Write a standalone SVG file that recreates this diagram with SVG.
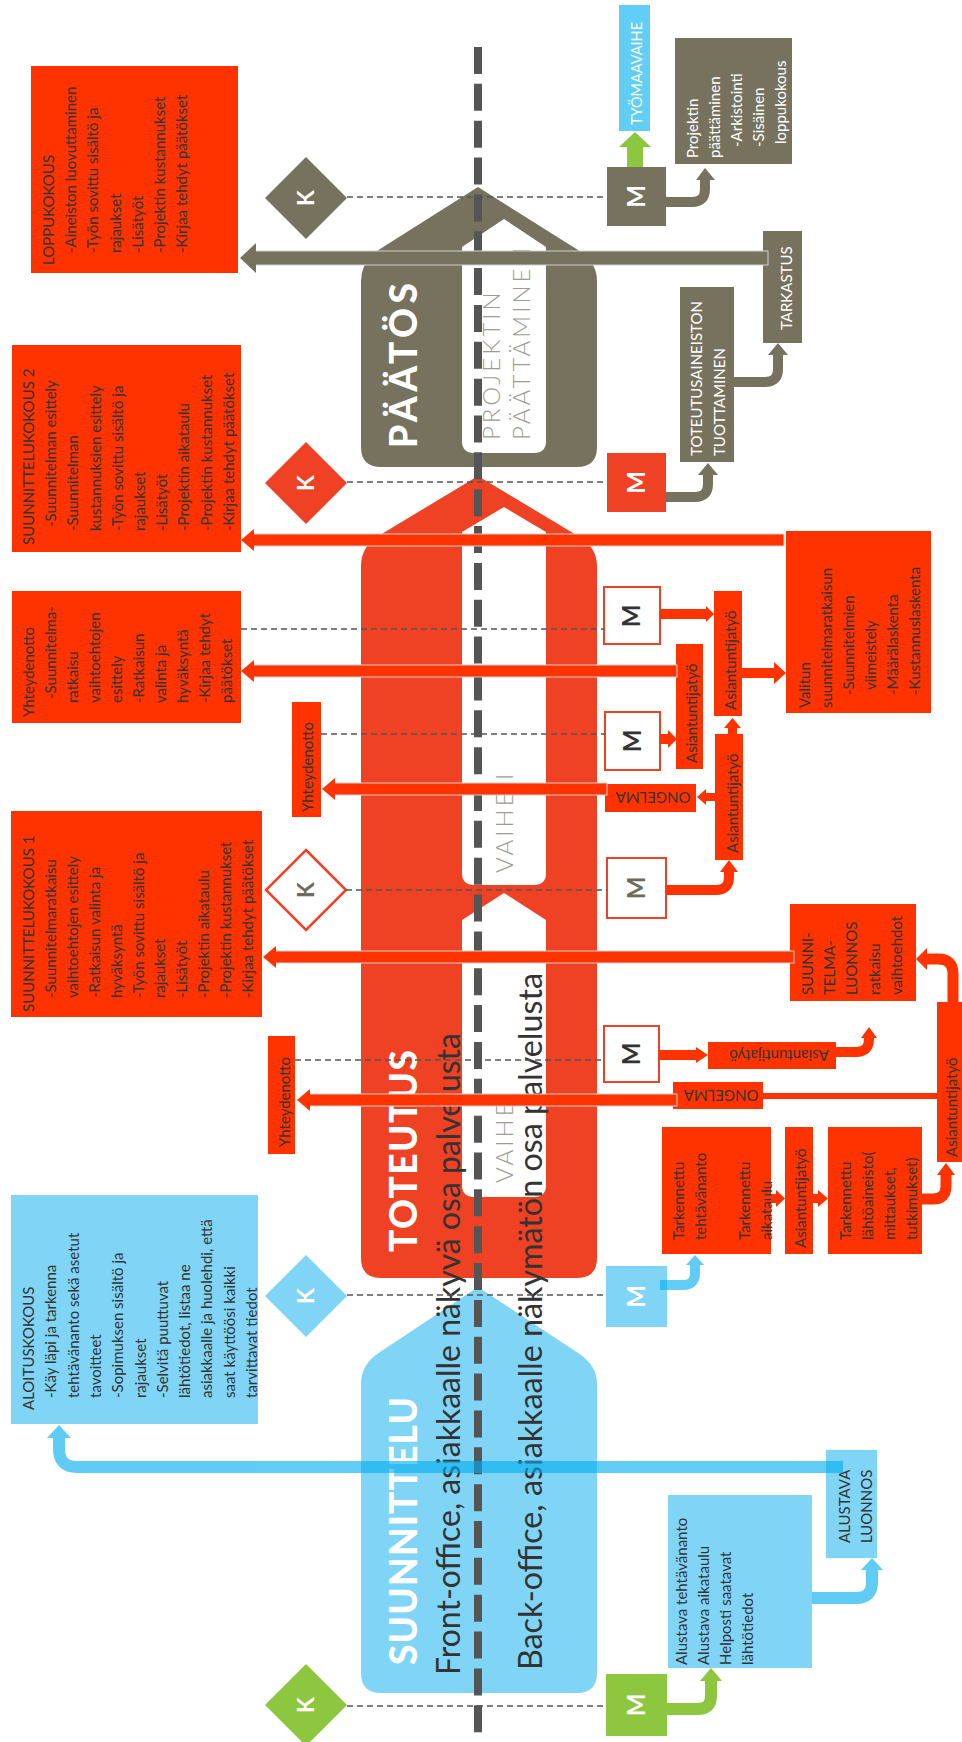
<svg xmlns="http://www.w3.org/2000/svg" width="962" height="1742" viewBox="0 0 962 1742">
<style>
  .txt{font-family:Lato,"Noto Sans",sans-serif;font-size:15px;fill:#333}
  .wt{fill:#fff}
  .red{fill:#ff3300}
  .org{fill:#ef4123}
  .gry{fill:#76725e}
  .blu{fill:#80d5f6}
  .grn{fill:#8dc63f}
  .sym{font-family:Lato,"Noto Sans",sans-serif;font-weight:700;font-size:23px;fill:#fff;text-anchor:middle}
  .msym{font-size:24px}
  .phase{font-family:Lato,"Noto Sans",sans-serif;font-weight:900;font-size:37px;fill:#fff}
  .sub{font-family:Lato,"Noto Sans",sans-serif;font-weight:300;font-size:24px;fill:#9c9c94;letter-spacing:3px}
  .office{font-family:Lato,"Noto Sans",sans-serif;font-size:32px;fill:#333}
  .dash{stroke:#555;stroke-width:1.3;stroke-dasharray:6 4;fill:none}
  .bar{stroke:#d0d0d0;stroke-width:1}
  .wbox{fill:#fff;stroke:#ef4123;stroke-width:2}
  .sr{fill:none;stroke:#ff3300}
  .sg{fill:none;stroke:#76725e}
  .sgr{fill:none;stroke:#8dc63f}
  .sb{fill:none;stroke:#00aeef}
  .mid{text-anchor:middle}
</style>

<!-- phase shapes -->
<g id="phase-paatos">
  <path class="gry" d="M478 187 L380 249 Q361 261 361 281 L361 447 Q361 467 381 467 L577 467 Q597 467 597 447 L597 281 Q597 262 578 250 Z"/>
  <path fill="#fff" d="M504 219 L546 247 L546 441 Q546 453 534 453 L474 453 Q462 453 462 441 L462 247 Z"/>
  <text class="phase" transform="translate(417 448) rotate(-90)" textLength="165" lengthAdjust="spacing">PÄÄTÖS</text>
  <text class="sub" transform="translate(500 440) rotate(-90)">PROJEKTIN</text>
  <text class="sub" transform="translate(530 440) rotate(-90)">PÄÄTTÄMINEN</text>
</g>
<g id="phase-toteutus">
  <path class="org" d="M478 476 L380 535 Q361 546 361 566 L361 1258 Q361 1278 381 1278 L577 1278 Q597 1278 597 1258 L597 566 Q597 547 578 536 Z"/>
  <path fill="#fff" d="M504 507 L546 532 L546 873 Q546 885 534 885 L474 885 Q462 885 462 873 L462 532 Z"/>
  <path fill="#fff" d="M504 893 L546 920 L546 1185 Q546 1197 534 1197 L474 1197 Q462 1197 462 1185 L462 920 Z"/>
  <text class="phase" transform="translate(417 1252) rotate(-90)" textLength="202" lengthAdjust="spacing">TOTEUTUS</text>
  <text class="sub" transform="translate(513 873) rotate(-90)">VAIHE I</text>
  <text class="sub" transform="translate(513 1183) rotate(-90)">VAIHE</text>
</g>
<g id="phase-suunnittelu">
  <path class="blu" d="M478 1287 L380 1352 Q361 1364 361 1384 L361 1673 Q361 1693 381 1693 L577 1693 Q597 1693 597 1673 L597 1384 Q597 1365 578 1353 Z"/>
  <text class="phase" transform="translate(417 1665) rotate(-90)" textLength="268" lengthAdjust="spacing">SUUNNITTELU</text>
</g>
<g id="office-labels">
  <text class="office" transform="translate(460 1675) rotate(-90)" textLength="642" lengthAdjust="spacingAndGlyphs">Front-office, asiakkaalle näkyvä osa palvelusta</text>
  <text class="office" transform="translate(542 1670) rotate(-90)" textLength="697" lengthAdjust="spacingAndGlyphs">Back-office, asiakkaalle näkymätön osa palvelusta</text>
</g>

<!-- front/back office boundary -->
<line id="boundary" x1="478" y1="47" x2="478" y2="1733" stroke="#555" stroke-width="8" stroke-dasharray="27 9.85"/>

<!-- meeting diamonds -->
<g id="k-loppukokous"><polygon class="gry" points="306,157 347,198 306,239 265,198"/><text class="sym" transform="translate(314 198) rotate(-90)">K</text></g>
<g id="k-suunnittelukokous2"><polygon class="org" points="306,442 347,483 306,524 265,483"/><text class="sym" transform="translate(314 483) rotate(-90)">K</text></g>
<g id="k-suunnittelukokous1"><polygon fill="#fff" stroke="#ef4123" stroke-width="2.5" points="306,850 346,890 306,930 266,890"/><text class="sym" style="fill:#6d6b5a" transform="translate(314 890) rotate(-90)">K</text></g>
<g id="k-aloituskokous"><polygon class="blu" points="306,1255 347,1296 306,1337 265,1296"/><text class="sym" transform="translate(314 1296) rotate(-90)">K</text></g>
<g id="k-alku"><polygon class="grn" points="306,1664 347,1705 306,1746 265,1705"/><text class="sym" transform="translate(314 1705) rotate(-90)">K</text></g>

<!-- milestone squares -->
<g id="m-paatos"><rect class="gry" x="607" y="167" width="59" height="59"/><text class="sym msym" transform="translate(645 196.5) rotate(-90)">M</text></g>
<g id="m-toteutus-loppu"><rect class="org" x="607" y="453" width="59" height="59"/><text class="sym msym" transform="translate(645 482.5) rotate(-90)">M</text></g>
<g id="m-1"><rect class="wbox" x="604" y="587" width="56" height="57"/><text class="sym msym" style="fill:#333" transform="translate(640 616) rotate(-90)">M</text></g>
<g id="m-2"><rect class="wbox" x="605" y="712" width="55" height="58"/><text class="sym msym" style="fill:#333" transform="translate(641 741) rotate(-90)">M</text></g>
<g id="m-3"><rect class="wbox" x="607" y="858" width="59" height="60"/><text class="sym msym" style="fill:#6d6b5a" transform="translate(645 888) rotate(-90)">M</text></g>
<g id="m-4"><rect class="wbox" x="604" y="1026" width="55" height="56"/><text class="sym msym" style="fill:#333" transform="translate(640 1054) rotate(-90)">M</text></g>
<g id="m-aloitus"><rect class="blu" x="606" y="1266" width="61" height="61"/><text class="sym msym" transform="translate(645 1296.5) rotate(-90)">M</text></g>
<g id="m-alku"><rect class="grn" x="606" y="1674" width="61" height="62"/><text class="sym msym" transform="translate(645 1705) rotate(-90)">M</text></g>

<!-- customer side boxes -->
<g id="loppukokous">
  <rect class="red" x="31" y="66" width="207" height="207"/>
  <text class="txt" transform="translate(54 253) rotate(-90)"><tspan x="-12" y="0">LOPPUKOKOUS</tspan><tspan x="0" dy="22.2">-Aineiston luovuttaminen</tspan><tspan x="0" dy="22.2">-Työn sovittu sisältö ja</tspan><tspan x="0" dy="22.2">rajaukset</tspan><tspan x="0" dy="22.2">-Lisätyöt</tspan><tspan x="0" dy="22.2">-Projektin kustannukset</tspan><tspan x="0" dy="22.2">-Kirjaa tehdyt päätökset</tspan></text>
</g>
<g id="suunnittelukokous2">
  <rect class="red" x="12" y="345" width="229" height="207"/>
  <text class="txt" transform="translate(34 531) rotate(-90)"><tspan x="-14" y="0">SUUNNITTELUKOKOUS 2</tspan><tspan x="4" dy="22.2">-Suunnitelman esittely</tspan><tspan x="0" dy="22.2">-Suunnitelman</tspan><tspan x="0" dy="22.2">kustannuksien esittely</tspan><tspan x="0" dy="22.2">-Työn sovittu sisältö ja</tspan><tspan x="0" dy="22.2">rajaukset</tspan><tspan x="0" dy="22.2">-Lisätyöt</tspan><tspan x="0" dy="22.2">-Projektin aikataulu</tspan><tspan x="0" dy="22.2">-Projektin kustannukset</tspan><tspan x="0" dy="22.2">-Kirjaa tehdyt päätökset</tspan></text>
</g>
<g id="yhteydenotto-ratkaisu">
  <rect class="red" x="12" y="591" width="229" height="132"/>
  <text class="txt" transform="translate(34 703) rotate(-90)"><tspan x="-14" y="0">Yhteydenotto</tspan><tspan x="4" dy="22">-Suunnitelma-</tspan><tspan x="0" dy="22">ratkaisu</tspan><tspan x="0" dy="22">vaihtoehtojen</tspan><tspan x="0" dy="22">esittely</tspan><tspan x="0" dy="22">-Ratkaisun</tspan><tspan x="0" dy="22">valinta ja</tspan><tspan x="0" dy="22">hyväksyntä</tspan><tspan x="0" dy="22">-Kirjaa tehdyt</tspan><tspan x="0" dy="22">päätökset</tspan></text>
</g>
<g id="yhteydenotto-1">
  <rect class="red" x="292" y="702" width="29" height="115"/>
  <text class="txt" transform="translate(313 812) rotate(-90)">Yhteydenotto</text>
</g>
<g id="suunnittelukokous1">
  <rect class="red" x="11" y="811" width="251" height="206"/>
  <text class="txt" transform="translate(34 998) rotate(-90)"><tspan x="-14" y="0">SUUNNITTELUKOKOUS 1</tspan><tspan x="0" dy="21.9">-Suunnitelmaratkaisu</tspan><tspan x="0" dy="21.9">vaihtoehtojen  esittely</tspan><tspan x="0" dy="21.9">-Ratkaisun valinta ja</tspan><tspan x="0" dy="21.9">hyväksyntä</tspan><tspan x="0" dy="21.9">-Työn sovittu sisältö ja</tspan><tspan x="0" dy="21.9">rajaukset</tspan><tspan x="0" dy="21.9">-Lisätyöt</tspan><tspan x="0" dy="21.9">-Projektin aikataulu</tspan><tspan x="0" dy="21.9">-Projektin kustannukset</tspan><tspan x="0" dy="21.9">-Kirjaa tehdyt päätökset</tspan></text>
</g>
<g id="yhteydenotto-2">
  <rect class="red" x="268" y="1036" width="27" height="118"/>
  <text class="txt" transform="translate(290 1147) rotate(-90)">Yhteydenotto</text>
</g>
<g id="aloituskokous">
  <rect class="blu" x="11" y="1195" width="247" height="229"/>
  <text class="txt" transform="translate(34 1398) rotate(-90)"><tspan x="-12" y="0">ALOITUSKOKOUS</tspan><tspan x="0" dy="22.3">-Käy läpi ja tarkenna</tspan><tspan x="0" dy="22.3">tehtävänanto sekä asetut</tspan><tspan x="0" dy="22.3">tavoitteet</tspan><tspan x="0" dy="22.3">-Sopimuksen sisältö ja</tspan><tspan x="0" dy="22.3">rajaukset</tspan><tspan x="0" dy="22.3">-Selvitä puuttuvat</tspan><tspan x="0" dy="22.3">lähtötiedot, listaa ne</tspan><tspan x="0" dy="22.3">asiakkaalle ja huolehdi, että</tspan><tspan x="0" dy="22.3">saat käyttöösi kaikki</tspan><tspan x="0" dy="22.3">tarvittavat tiedot</tspan></text>
</g>

<!-- internal work boxes -->
<g id="tyomaavaihe">
  <rect x="619" y="5" width="31" height="126" fill="#62cdf5"/>
  <text class="txt wt" transform="translate(642 125) rotate(-90)" textLength="103" lengthAdjust="spacingAndGlyphs">TYÖMAAVAIHE</text>
</g>
<g id="projektin-paattaminen">
  <rect class="gry" x="675" y="38" width="117" height="126"/>
  <text class="txt wt" transform="translate(698 158) rotate(-90)"><tspan x="0" y="0">Projektin</tspan><tspan x="0" dy="22">päättäminen</tspan><tspan x="11" dy="22">-Arkistointi</tspan><tspan x="11" dy="22">-Sisäinen</tspan><tspan x="14" dy="22">loppukokous</tspan></text>
</g>
<g id="tarkastus">
  <rect class="gry" x="763" y="231" width="39" height="112"/>
  <text class="txt wt" transform="translate(792 330) rotate(-90)">TARKASTUS</text>
</g>
<g id="toteutusaineisto">
  <rect class="gry" x="680" y="287" width="54" height="175"/>
  <text class="txt wt" transform="translate(702 456) rotate(-90)"><tspan x="0" y="0">TOTEUTUSAINEISTON</tspan><tspan x="0" dy="23">TUOTTAMINEN</tspan></text>
</g>
<g id="valitun-ratkaisu">
  <rect class="red" x="786" y="531" width="145" height="182"/>
  <text class="txt" transform="translate(810 708) rotate(-90)"><tspan x="0" y="0">Valitun</tspan><tspan x="0" dy="22">suunnitelmaratkaisun</tspan><tspan x="13" dy="22">-Suunnitelmien</tspan><tspan x="18" dy="22">viimeistely</tspan><tspan x="13" dy="22">-Määrälaskenta</tspan><tspan x="13" dy="22">-Kustannuslaskenta</tspan></text>
</g>
<g id="asiantuntijatyo-1">
  <rect class="red" x="714" y="591" width="28" height="125"/>
  <text class="txt" transform="translate(736 710) rotate(-90)">Asiantuntijatyö</text>
</g>
<g id="asiantuntijatyo-2">
  <rect class="red" x="676" y="644" width="27" height="125"/>
  <text class="txt" transform="translate(697 763) rotate(-90)">Asiantuntijatyö</text>
</g>
<g id="asiantuntijatyo-3">
  <rect class="red" x="715" y="734" width="28" height="126"/>
  <text class="txt" transform="translate(737.5 853) rotate(-90)">Asiantuntijatyö</text>
</g>
<g id="ongelma-1">
  <rect class="red" x="605" y="784" width="91" height="28"/>
  <text class="txt mid" transform="translate(653 797) rotate(180)" dy="0.36em">ONGELMA</text>
</g>
<g id="suunnitelmaluonnos">
  <rect class="red" x="790" y="904" width="126" height="97"/>
  <text class="txt" transform="translate(813 995) rotate(-90)"><tspan x="0" y="0">SUUNNI-</tspan><tspan x="0" dy="22.2">TELMA-</tspan><tspan x="0" dy="22.2">LUONNOS</tspan><tspan x="0" dy="22.2">ratkaisu</tspan><tspan x="0" dy="22.2">vaihtoehdot</tspan></text>
</g>
<g id="asiantuntijatyo-4">
  <rect class="red" x="708" y="1042" width="128" height="27"/>
  <text class="txt mid" transform="translate(779 1055) rotate(180)" dy="0.36em">Asiantuntijatyö</text>
</g>
<g id="ongelma-2">
  <rect class="red" x="673" y="1082" width="90" height="27"/>
  <text class="txt mid" transform="translate(721 1095) rotate(180)" dy="0.36em">ONGELMA</text>
</g>
<g id="asiantuntijatyo-5">
  <rect class="red" x="937" y="1002" width="25" height="160"/>
  <text class="txt" transform="translate(957 1157) rotate(-90)">Asiantuntijatyö</text>
</g>
<g id="tarkennettu-tehtavananto">
  <rect class="red" x="662" y="1127" width="109" height="127"/>
  <text class="txt" transform="translate(684 1240) rotate(-90)"><tspan x="0" y="0">Tarkennettu</tspan><tspan x="0" dy="22">tehtävänanto</tspan><tspan x="0" dy="44">Tarkennettu</tspan><tspan x="0" dy="22">aikataulu</tspan></text>
</g>
<g id="asiantuntijatyo-6">
  <rect class="red" x="785" y="1127" width="28" height="127"/>
  <text class="txt" transform="translate(806 1248) rotate(-90)">Asiantuntijatyö</text>
</g>
<g id="tarkennettu-lahtoaineisto">
  <rect class="red" x="828" y="1127" width="94" height="127"/>
  <text class="txt" transform="translate(851 1240) rotate(-90)"><tspan x="0" y="0">Tarkennettu</tspan><tspan x="0" dy="22">lähtöaineisto(</tspan><tspan x="0" dy="22">mittaukset,</tspan><tspan x="0" dy="22">tutkimukset)</tspan></text>
</g>
<g id="alustava-luonnos">
  <rect class="blu" x="826" y="1450" width="51" height="108"/>
  <text class="txt" transform="translate(850 1543) rotate(-90)"><tspan x="0" y="0">ALUSTAVA</tspan><tspan x="0" dy="22">LUONNOS</tspan></text>
</g>
<g id="alustava-tehtavananto">
  <rect class="blu" x="668" y="1495" width="144" height="173"/>
  <text class="txt" transform="translate(687 1665) rotate(-90)"><tspan x="0" y="0">Alustava tehtävänanto</tspan><tspan x="0" dy="22">Alustava aikataulu</tspan><tspan x="0" dy="22">Helposti saatavat</tspan><tspan x="0" dy="22">lähtötiedot</tspan></text>
</g>

<!-- connectors -->
<g id="connectors">
  <!-- meeting to milestone links -->
  <line class="dash" x1="347" y1="197" x2="607" y2="197"/>
  <line class="dash" x1="347" y1="482" x2="607" y2="482"/>
  <line class="dash" x1="241" y1="629" x2="604" y2="629"/>
  <line class="dash" x1="321" y1="734" x2="605" y2="734"/>
  <line class="dash" x1="346" y1="890" x2="607" y2="890"/>
  <line class="dash" x1="295" y1="1060" x2="604" y2="1060"/>
  <line class="dash" x1="347" y1="1295" x2="606" y2="1295"/>
  <line class="dash" x1="347" y1="1706" x2="606" y2="1706"/>

  <!-- report bars towards the customer side -->
  <rect class="gry bar" x="255" y="251" width="513" height="14"/>
  <polygon class="gry" points="240,258 256,243 256,273"/>
  <rect class="red bar" x="253" y="534" width="531" height="12"/>
  <polygon class="red" points="241,540 254,529 254,551"/>
  <rect class="red bar" x="253" y="665" width="424" height="12"/>
  <polygon class="red" points="241,671 254,660 254,682"/>
  <rect class="red bar" x="334" y="783" width="273" height="12"/>
  <polygon class="red" points="322,789 335,778 335,800"/>
  <rect class="red bar" x="275" y="951" width="519" height="12"/>
  <polygon class="red" points="263,957 276,946 276,968"/>
  <rect class="red bar" x="309" y="1094" width="368" height="12"/>
  <polygon class="red" points="297,1100 310,1089 310,1111"/>
  <rect class="red" x="763" y="1093" width="174" height="6"/>

  <!-- internal flow arrows -->
  <path class="sg" stroke-width="10" d="M666 202 H692 Q705 202 705 189 V179"/>
  <polygon class="gry" points="696,180 715,180 705,168"/>
  <path class="sg" stroke-width="10" d="M666 497 H695 Q708 497 708 484 V474"/>
  <polygon class="gry" points="698,475 718,475 708,463"/>
  <path class="sg" stroke-width="10" d="M734 382 H765 Q778 382 778 369 V354"/>
  <polygon class="gry" points="768,355 788,355 778,343"/>

  <rect class="grn" x="627" y="146" width="16" height="21"/>
  <polygon class="grn" points="619,147 651,147 635,132"/>
  <path class="sgr" stroke-width="12" d="M667 1709 H698 Q711 1709 711 1696 V1680"/>
  <polygon class="grn" points="700,1681 722,1681 711,1668"/>

  <rect class="red" x="660" y="609" width="47" height="10"/>
  <polygon class="red" points="706,606 714,614 706,622"/>
  <rect class="red" x="660" y="734" width="9" height="10"/>
  <polygon class="red" points="668,730 677,739 668,748"/>
  <rect class="red" x="742" y="668" width="33" height="10"/>
  <polygon class="red" points="774,662 786,673 774,684"/>
  <path class="sr" stroke-width="10" d="M666 890 H716 Q729 890 729 877 V871"/>
  <polygon class="red" points="720,872 738,872 729,860"/>
  <rect class="red" x="728" y="727" width="9" height="8"/>
  <polygon class="red" points="724,728 741,728 732.5,718"/>
  <rect class="red" x="705" y="793" width="11" height="8"/>
  <polygon class="red" points="697,797 706,789 706,805"/>
  <rect class="red" x="659" y="1050" width="38" height="10"/>
  <polygon class="red" points="696,1047 708,1055 696,1063"/>
  <path class="sr" stroke-width="10" d="M836 1052 H856 Q869 1052 869 1039 V1037"/>
  <polygon class="red" points="861,1038 877,1038 869,1027"/>
  <rect class="red" x="771" y="1194" width="6" height="9"/>
  <polygon class="red" points="776,1190 785,1198.5 776,1207"/>
  <rect class="red" x="813" y="1194" width="6" height="9"/>
  <polygon class="red" points="818,1190 828,1198.5 818,1207"/>
  <path class="sr" stroke-width="11" d="M922 1199 H933 Q946 1199 946 1186 V1174"/>
  <polygon class="red" points="937,1175 955,1175 946,1163"/>
  <path class="sr" stroke-width="11" d="M953 1002 V974 Q953 959 938 959 H926"/>
  <polygon class="red" points="927,948 927,970 916,959"/>

  <g opacity="0.62">
    <path class="sb" stroke-width="10" d="M660 1285 H683 Q695 1285 695 1273 V1264"/>
    <polygon fill="#00aeef" points="686,1265 704,1265 695,1255"/>
  </g>
  <g opacity="0.62">
    <path class="sb" stroke-width="12" d="M812 1598 H856 Q872 1598 872 1582 V1569"/>
    <polygon fill="#00aeef" points="861,1570 883,1570 872,1558"/>
  </g>
  <g opacity="0.62">
    <path class="sb" stroke-width="12" d="M843 1467 H77 Q59 1467 59 1449 V1437"/>
    <polygon fill="#00aeef" points="47,1438 71,1438 59,1425"/>
  </g>
</g>
</svg>
